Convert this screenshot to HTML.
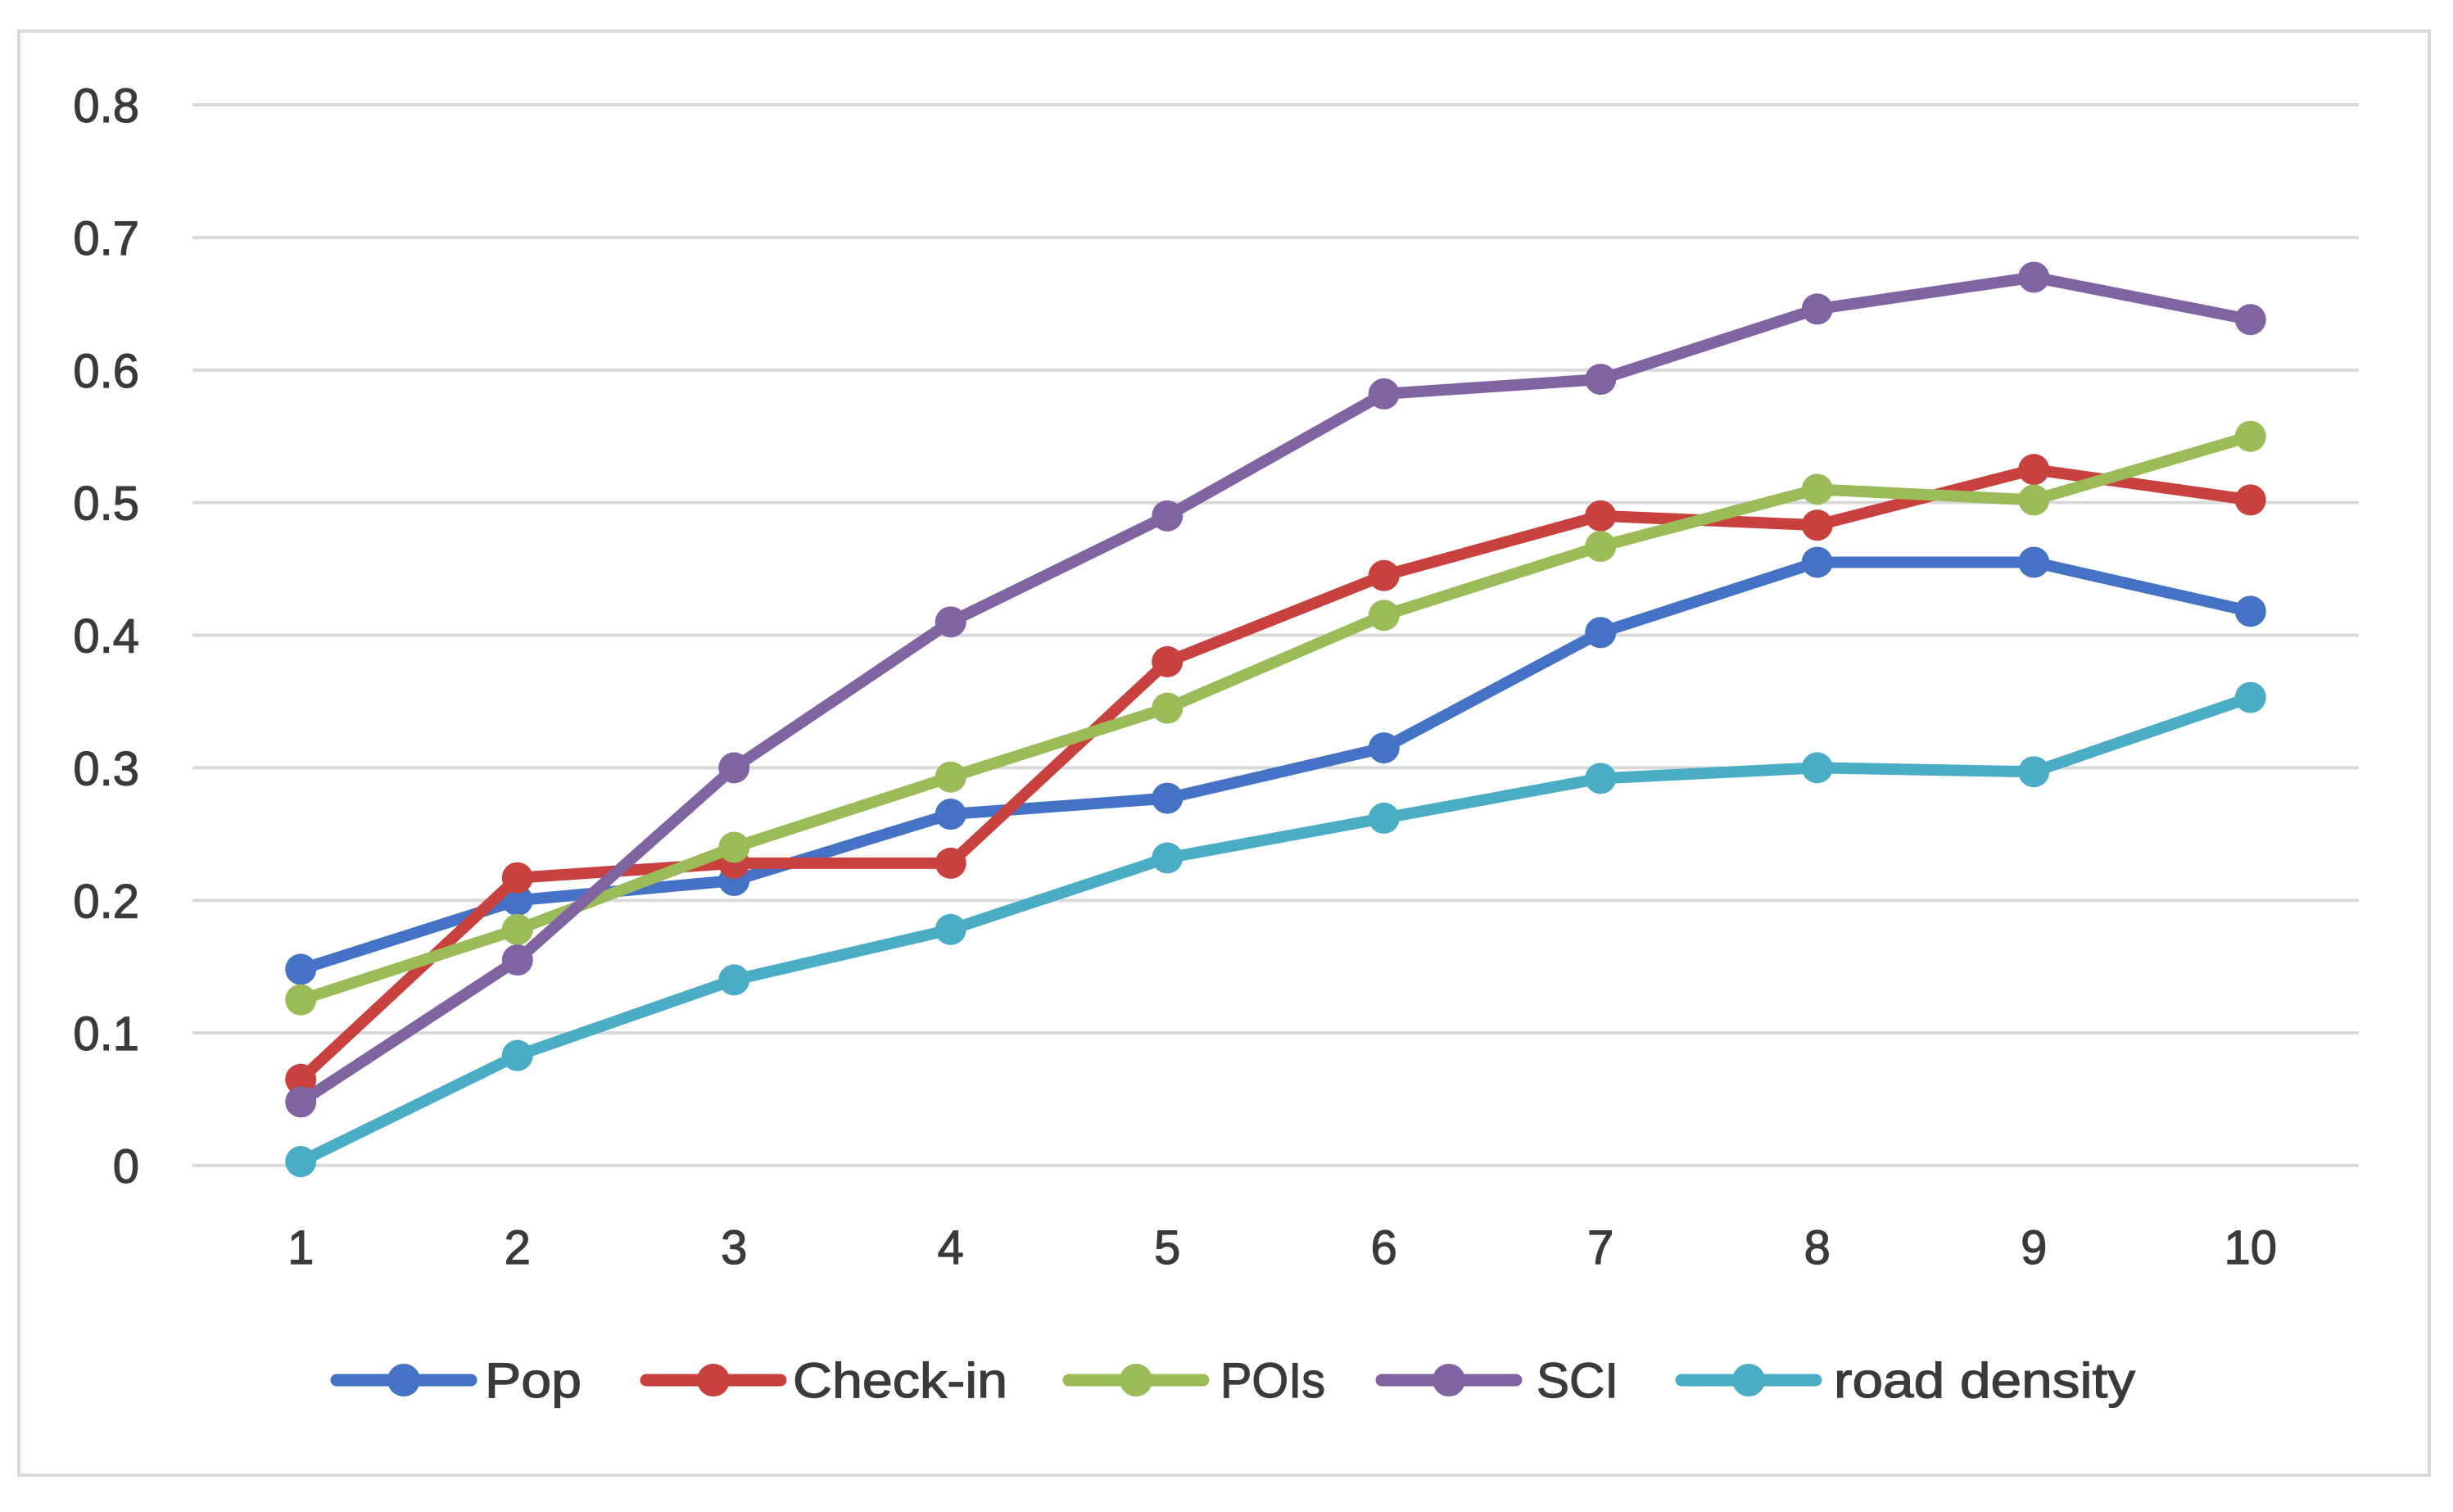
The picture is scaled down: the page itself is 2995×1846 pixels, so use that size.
<!DOCTYPE html>
<html><head><meta charset="utf-8"><style>
html,body{margin:0;padding:0;background:#fff;}
svg{display:block;}
text{font-family:"Liberation Sans",sans-serif;fill:#3a3a3a;stroke:#3a3a3a;stroke-width:1.2;}
</style></head><body>
<svg id="chart" width="2995" height="1846" viewBox="0 0 2995 1846">
<rect x="23" y="38" width="2943" height="1763" fill="#fff" stroke="#d9d9d9" stroke-width="4"/>
<g id="grid"></g><g id="ylab"></g><g id="xlab"></g><g id="series"></g><g id="legend"></g>
</svg>
<script>
const categories = ["1","2","3","4","5","6","7","8","9","10"];
const yTicks = [0,0.1,0.2,0.3,0.4,0.5,0.6,0.7,0.8];
const yTickLabels = ["0","0.1","0.2","0.3","0.4","0.5","0.6","0.7","0.8"];
const seriesNames = ["Pop","Check-in","POIs","SCI","road density"];
const popValues = [0.148,0.2,0.215,0.265,0.277,0.315,0.402,0.455,0.455,0.418];
const checkinValues = [0.065,0.217,0.228,0.228,0.38,0.445,0.49,0.483,0.525,0.502];
const poisValues = [0.125,0.178,0.24,0.293,0.345,0.415,0.467,0.51,0.502,0.55];
const sciValues = [0.048,0.155,0.3,0.41,0.49,0.582,0.593,0.646,0.67,0.638];
const roadValues = [0.003,0.083,0.14,0.178,0.232,0.262,0.292,0.3,0.297,0.353];

const NS="http://www.w3.org/2000/svg";
const colors=["#4472C4","#C9413F","#9BBB59","#8064A2","#4BACC6"];
const allSeries=[popValues,checkinValues,poisValues,sciValues,roadValues];
const plotL=235, plotR=2880, y0=1423, y8=128;
const band=(plotR-plotL)/categories.length;
function xs(i){return plotL+band*(i+0.5);}
function ys(v){return y0-(v/0.8)*(y0-y8);}
function mk(tag,attrs,parent){const e=document.createElementNS(NS,tag);for(const k in attrs)e.setAttribute(k,attrs[k]);parent.appendChild(e);return e;}
const grid=document.getElementById('grid'),ylab=document.getElementById('ylab'),xlab=document.getElementById('xlab'),ser=document.getElementById('series'),leg=document.getElementById('legend');
yTicks.forEach((t,i)=>{
  const l=mk('line',{x1:plotL,x2:plotR,y1:ys(t),y2:ys(t),stroke:'#d9d9d9','stroke-width':4},grid);
  
  
  const tx=mk('text',{x:170,y:ys(t)+21,'text-anchor':'end','font-size':58},ylab);
  tx.textContent=yTickLabels[i];
  
  
});
categories.forEach((c,i)=>{
  const tx=mk('text',{x:xs(i),y:1543,'text-anchor':'middle','font-size':58},xlab);
  tx.textContent=c;
  
  
});
allSeries.forEach((vals,s)=>{
  const g=mk('g',{},ser);
  
  
  const pts=vals.map((v,i)=>xs(i)+','+ys(v)).join(' ');
  const pl=mk('polyline',{points:pts,fill:'none',stroke:colors[s],'stroke-width':14,'stroke-linejoin':'round','stroke-linecap':'round'},g);
  
  
  vals.forEach((v,i)=>{
    const c=mk('circle',{cx:xs(i),cy:ys(v),r:19,fill:colors[s]},g);
    
    
  });
});
const legLineX=[411,789,1305,1687,2053];
const legTextX=[592,968,1490,1876,2239];
const legTextW=[118,262,128,100,368];
const legY=1685;
seriesNames.forEach((n,s)=>{
  const g=mk('g',{},leg);
  
  
  mk('line',{x1:legLineX[s],x2:legLineX[s]+164,y1:legY,y2:legY,stroke:colors[s],'stroke-width':15,'stroke-linecap':'round'},g);
  mk('circle',{cx:legLineX[s]+82,cy:legY,r:20,fill:colors[s]},g);
  const tx=mk('text',{x:legTextX[s],y:legY+21,'font-size':60,textLength:legTextW[s],lengthAdjust:'spacingAndGlyphs'},g);
  tx.textContent=n;
});
</script>
</body></html>
